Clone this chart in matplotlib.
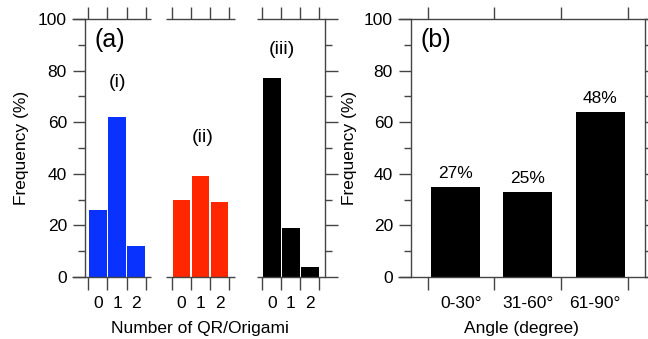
import numpy as np
import matplotlib
matplotlib.use('Agg')
import matplotlib.pyplot as plt
from matplotlib.ticker import MultipleLocator

plt.rcParams['font.family'] = ['Liberation Sans', 'DejaVu Sans']

# panel (a): frequency of number of QR/origami per group
counts = ['0', '1', '2']
freq_i = [26, 62, 12]
freq_ii = [30, 39, 29]
freq_iii = [77, 19, 4]
group_names = ['(i)', '(ii)', '(iii)']
group_colors = ['#0A32FF', '#FF2600', '#000000']

# panel (b): angle distribution
angles = ['0-30°', '31-60°', '61-90°']
angle_freq = [35, 33, 64]
angle_pct = ['27%', '25%', '48%']

axis_col = '#444444'
fs = 12.5

fig = plt.figure(figsize=(6.48, 3.39), dpi=100)
ax_a = fig.add_axes([85 / 648, 1 - 277 / 339, 240 / 648, 258 / 339])
ax_b = fig.add_axes([411 / 648, 1 - 277 / 339, 234 / 648, 258 / 339])


def style_axis(ax):
    for s in ['top', 'bottom']:
        ax.spines[s].set_visible(False)
    for s in ['left', 'right']:
        ax.spines[s].set_color(axis_col)
        ax.spines[s].set_linewidth(1.0)
    ax.set_ylim(0, 100)
    ax.yaxis.set_major_locator(MultipleLocator(20))
    ax.yaxis.set_minor_locator(MultipleLocator(10))
    ax.tick_params(axis='y', which='both', direction='out', right=True,
                   color=axis_col, width=1.0, labelsize=fs, pad=4)
    ax.tick_params(axis='y', which='major', length=9)
    ax.tick_params(axis='y', which='minor', length=5)
    ax.tick_params(axis='x', which='major', direction='out', top=True,
                   length=9, width=1.0, color=axis_col, labelbottom=False)
    ax.tick_params(axis='x', which='minor', length=0, labelsize=fs, pad=14)
    ax.set_ylabel('Frequency (%)', fontsize=fs)
    ax.yaxis.set_label_coords(-0.232, 0.5)


def hline(ax, x0, x1):
    for yy in (0, 1):
        ax.plot([x0, x1], [yy, yy], color=axis_col, lw=1.0,
                transform=ax.get_xaxis_transform(), clip_on=False,
                solid_capstyle='butt')


# ---- panel (a)
style_axis(ax_a)
offsets = [0.684, 5.08, 9.84]
seg_left = [-0.68, None, None]
all_freq = [freq_i, freq_ii, freq_iii]
edges, centers, labels = [], [], []
pos = np.arange(len(counts))
for k in range(3):
    x = offsets[k] + pos
    ax_a.bar(x, all_freq[k], width=0.9, color=group_colors[k])
    edges += list(offsets[k] - 0.5 + np.arange(len(counts) + 1))
    centers += list(x)
    labels += counts
    left = seg_left[k] if seg_left[k] is not None else offsets[k] - 0.8
    hline(ax_a, left, offsets[k] + 2.8)
ax_a.set_xlim(0, 12.63)
ax_a.set_xticks(edges)
ax_a.set_xticklabels([''] * len(edges))
ax_a.set_xticks(centers, minor=True)
ax_a.set_xticklabels(labels, minor=True)
ax_a.tick_params(axis='y', which='both', labelright=False)

ax_a.text(1.684, 75.5, group_names[0], ha='center', va='center', fontsize=14)
ax_a.text(6.21, 54, group_names[1], ha='center', va='center', fontsize=14)
ax_a.text(10.37, 88, group_names[2], ha='center', va='center', fontsize=14)
ax_a.text(0.04, 0.92, '(a)', transform=ax_a.transAxes, ha='left', va='center', fontsize=18)
ax_a.set_xlabel('Number of QR/Origami', fontsize=fs)
ax_a.xaxis.set_label_coords(0.479, -0.172)

# ---- panel (b)
style_axis(ax_b)
cat_x = np.arange(1, len(angles) + 1)
bar_shift = np.array([-0.08, 0.0, 0.09])
bars = ax_b.bar(cat_x + bar_shift, angle_freq, width=0.735, color='black')
for b, t in zip(bars, angle_pct):
    ax_b.annotate(t, (b.get_x() + b.get_width() / 2, b.get_height()),
                  xytext=(0, 4), textcoords='offset points',
                  ha='center', va='bottom', fontsize=12.5)
ax_b.set_xlim(0.25, 3.76)
ax_b.set_xticks(np.arange(0.5, len(angles) + 1, 1.0))
ax_b.set_xticklabels([''] * (len(angles) + 1))
ax_b.set_xticks(cat_x, minor=True)
ax_b.set_xticklabels(angles, minor=True)
ax_b.tick_params(axis='y', which='both', labelright=False)
hline(ax_b, 0.055, 3.82)
ax_b.text(0.04, 0.92, '(b)', transform=ax_b.transAxes, ha='left', va='center', fontsize=18)
ax_b.set_xlabel('Angle (degree)', fontsize=fs)
ax_b.xaxis.set_label_coords(0.474, -0.172)

fig.savefig('out.png', dpi=100)
